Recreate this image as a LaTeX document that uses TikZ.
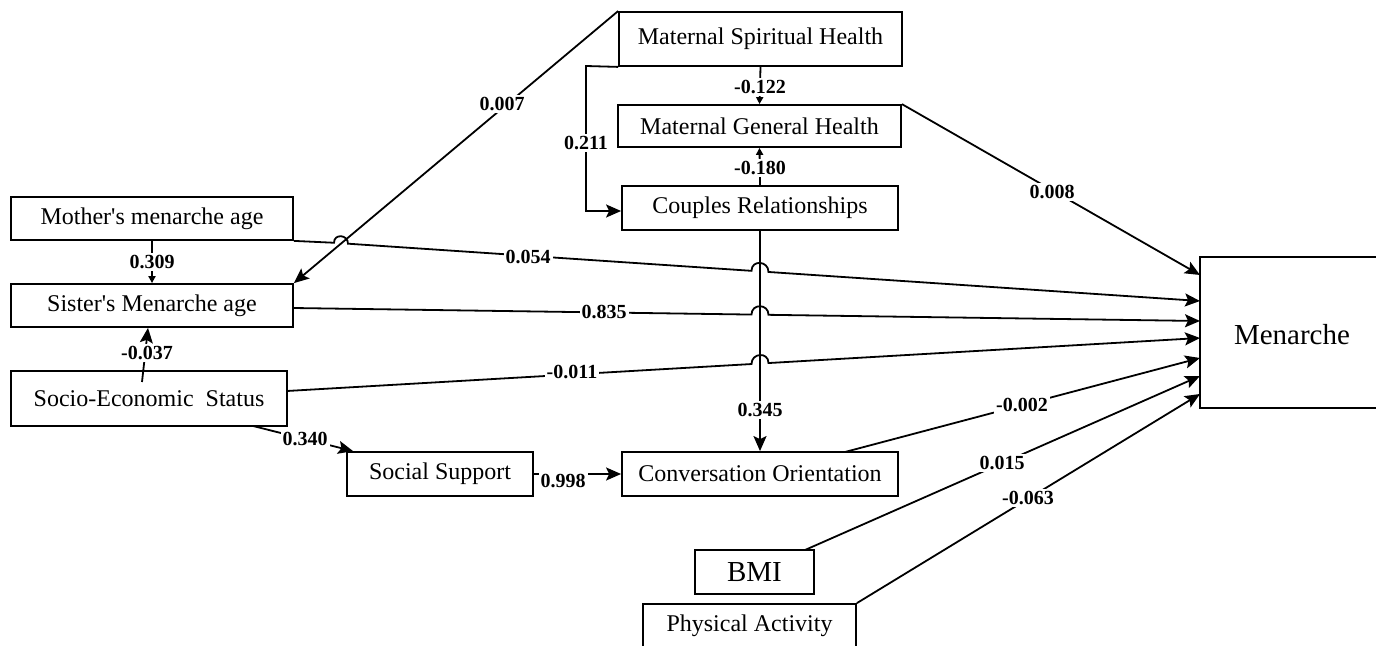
\documentclass[tikz,border=0pt]{standalone}
\usepackage{fontspec}
\setmainfont{Liberation Serif}[Ligatures=TeXOff]
\usetikzlibrary{arrows.meta,calc}
\begin{document}
\begin{tikzpicture}[x=0.5pt,y=-0.5pt,
  box/.style={draw,line width=0.9pt,inner sep=0pt,font=\fontsize{12}{14}\selectfont},
  bigbox/.style={draw,line width=0.9pt,inner sep=0pt,font=\fontsize{14.5}{17}\selectfont},
  conn/.style={line width=0.9pt},
  arr/.style={conn,-{Stealth[length=7.5pt,width=6.5pt,inset=1.5pt]}},
  sarr/.style={conn,-{Triangle[length=3.5pt,width=3.5pt]}},
  lbl/.style={fill=white,inner sep=1pt,font=\fontsize{10}{12}\selectfont\bfseries}]
\useasboundingbox (0,0) rectangle (1376,646);
% boxes
\node[box,minimum width=141.5pt,minimum height=27pt] (msh) at (760.5,39) {Maternal Spiritual Health};
\node[box,minimum width=141.5pt,minimum height=21pt] (mgh) at (759.5,126) {Maternal General Health};
\node[box,minimum width=138pt,minimum height=22pt] (cr) at (760,208) {Couples Relationships};
\node[box,minimum width=141pt,minimum height=21.5pt] (mma) at (152,218.5) {Mother's menarche age};
\node[box,minimum width=141pt,minimum height=21.5pt] (sma) at (152,305.5) {Sister's Menarche age};
\node[box,minimum width=138pt,minimum height=27.5pt] (ses) at (149,398.5) {Socio-Economic~~Status};
\node[box,minimum width=93pt,minimum height=22pt] (ss) at (440,474) {Social Support};
\node[box,minimum width=138pt,minimum height=22pt] (co) at (760,474) {Conversation Orientation};
\node[bigbox,minimum width=59.5pt,minimum height=22pt] (bmi) at (754.5,572) {BMI};
\node[box,minimum width=106.5pt,minimum height=22pt] (pa) at (749.5,626) {Physical Activity};
\node[bigbox,minimum width=90pt,minimum height=75.5pt] (men) at (1290,332.5) {};
\node[font=\fontsize{14.5}{17}\selectfont,inner sep=0pt] (mentext) at (1292,335) {Menarche};
% target points on Menarche
\coordinate (m1) at (1200,275);
\coordinate (m2) at (1200,301);
\coordinate (m3) at (1200,321);
\coordinate (m4) at (1200,338);
\coordinate (m5) at (1200,358);
\coordinate (m6) at (1200,376);
\coordinate (m7) at (1200,394);
% connectors
\draw[arr] (msh.north west) -- (sma.north east);
\draw[arr] (msh.south west) -- (586,66) -- (586,211) -- (cr.west |- 0,211);
\draw[sarr] (msh.south) -- (mgh.north);
\draw[sarr] (cr.north) -- (mgh.south);
\draw[arr] (cr.south) -- (co.north);
\draw[sarr] (mma.south) -- (sma.north);
\coordinate (sesA) at (142,382);
\draw[arr] (sesA) -- (sma.south -| 148,0);
\coordinate (sesB) at (253,426);
\draw[arr] (sesB) -- ($(ss.north west)+(7,0)$);
\draw[arr] (ss.east) -- (co.west);
\draw[arr] (mgh.north east) -- (m1);
% Mother's with two hops
\draw[arr] (mma.south east) -- (334,242.76)
   .. controls (334,233.4) and (348,234.4) .. (348,243.70)
   -- (751.5,270.83)
   .. controls (751.5,259.5) and (768.5,260.7) .. (768.5,271.98)
   -- (m2);
\coordinate (smaS) at (293,308);
\draw[arr] (smaS) -- (751.5,314.57)
   .. controls (751.5,303.3) and (768.5,303.5) .. (768.5,314.82)
   -- (m3);
\coordinate (sesS) at (287,391);
\draw[arr] (sesS) -- (751.5,364.04)
   .. controls (751.5,352.7) and (768.5,351.7) .. (768.5,363.05)
   -- (m4);
\coordinate (coS) at (845,452);
\draw[arr] (coS) -- (m5);
\coordinate (bmiS) at (805,550);
\draw[arr] (bmiS) -- (m6);
\draw[arr] (pa.north east) -- (m7);
% labels
\node[lbl] (l1) at (502,104) {0.007};
\node[lbl] (l2) at (586,143) {0.211};
\node[lbl] (l3) at (760,87) {-0.122};
\node[lbl] (l4) at (760,168) {-0.180};
\node[lbl] (l5) at (760,410) {0.345};
\node[lbl] (l6) at (152,262) {0.309};
\node[lbl] (l7) at (147,353) {-0.037};
\node[lbl] (l8) at (305,439) {0.340};
\node[lbl] (l9) at (563,481) {0.998};
\node[lbl] (l10) at (1052,192) {0.008};
\node[lbl] (l11) at (528,257) {0.054};
\node[lbl] (l12) at (604,312) {0.835};
\node[lbl] (l13) at (572,372) {-0.011};
\node[lbl] (l14) at (1022,405) {-0.002};
\node[lbl] (l15) at (1002,463) {0.015};
\node[lbl] (l16) at (1028,498) {-0.063};
\end{tikzpicture}
\end{document}
